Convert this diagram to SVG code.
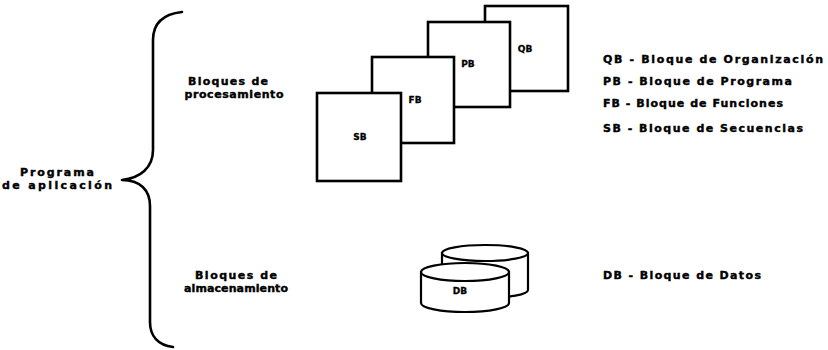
<svg xmlns="http://www.w3.org/2000/svg" width="828" height="350" viewBox="0 0 828 350">
  <style>
    .t { font-family: "DejaVu Sans", "Liberation Sans", sans-serif; font-weight: bold; font-size: 11px; fill: #000; stroke: #000; stroke-width: 0.4; }
    .s { font-family: "DejaVu Sans", "Liberation Sans", sans-serif; font-weight: bold; font-size: 9px; fill: #000; stroke: #000; stroke-width: 0.3; text-anchor: middle; }
    .c { text-anchor: middle; }
    .box { fill: #fff; stroke: #000; stroke-width: 2.6; }
    .cyl { fill: #fff; stroke: #000; stroke-width: 2.2; }
    .brace { fill: none; stroke: #000; stroke-width: 2.6; stroke-linecap: round; stroke-linejoin: round; }
  </style>
  <rect width="828" height="350" fill="#fff"/>

  <!-- curly brace -->
  <g id="connectors">
    <path class="brace" d="M182,12 C164,14 153,22 153,40 L153,150 C153,168 140,178 122,180 C140,180 150,190 150,206 L150,322 C150,336 158,345 173,347"/>
  </g>

  <!-- left labels -->
  <g id="programa">
    <text class="t c" x="57" y="176" textLength="74">Programa</text>
    <text class="t c" x="57" y="189" textLength="110">de aplicación</text>
  </g>
  <g id="procesamiento">
    <text class="t c" x="228" y="85" textLength="80">Bloques de</text>
    <text class="t c" x="234" y="98" textLength="99">procesamiento</text>
  </g>
  <g id="almacenamiento">
    <text class="t c" x="236" y="279" textLength="82">Bloques de</text>
    <text class="t c" x="236" y="292" textLength="104">almacenamiento</text>
  </g>

  <!-- stacked program blocks, back to front -->
  <g id="qb">
    <rect class="box" x="485" y="6" width="83" height="85"/>
    <text class="s" x="525" y="52">QB</text>
  </g>
  <g id="pb">
    <rect class="box" x="428" y="22" width="82" height="85"/>
    <text class="s" x="468" y="67">PB</text>
  </g>
  <g id="fb">
    <rect class="box" x="372" y="57" width="82" height="86"/>
    <text class="s" x="415" y="103">FB</text>
  </g>
  <g id="sb">
    <rect class="box" x="317" y="93" width="84" height="88"/>
    <text class="s" x="360" y="140">SB</text>
  </g>

  <!-- data blocks -->
  <g id="db-back">
    <path class="cyl" d="M442,253 L442,290 A43,8 0 0 0 528,290 L528,253 Z"/>
    <ellipse class="cyl" cx="485" cy="253" rx="43" ry="8"/>
  </g>
  <g id="db">
    <path class="cyl" d="M421,272 L421,303 A44,9 0 0 0 509,303 L509,272 Z"/>
    <ellipse class="cyl" cx="465" cy="272" rx="44" ry="9"/>
    <text class="s" x="460" y="294">DB</text>
  </g>

  <!-- legend -->
  <g id="legend">
    <text class="t" x="603" y="63" textLength="220">QB - Bloque de Organización</text>
    <text class="t" x="603" y="85" textLength="189">PB - Bloque de Programa</text>
    <text class="t" x="603" y="107" textLength="180">FB - Bloque de Funciones</text>
    <text class="t" x="603" y="132" textLength="200">SB - Bloque de Secuencias</text>
    <text class="t" x="603" y="279" textLength="158">DB - Bloque de Datos</text>
  </g>
</svg>
